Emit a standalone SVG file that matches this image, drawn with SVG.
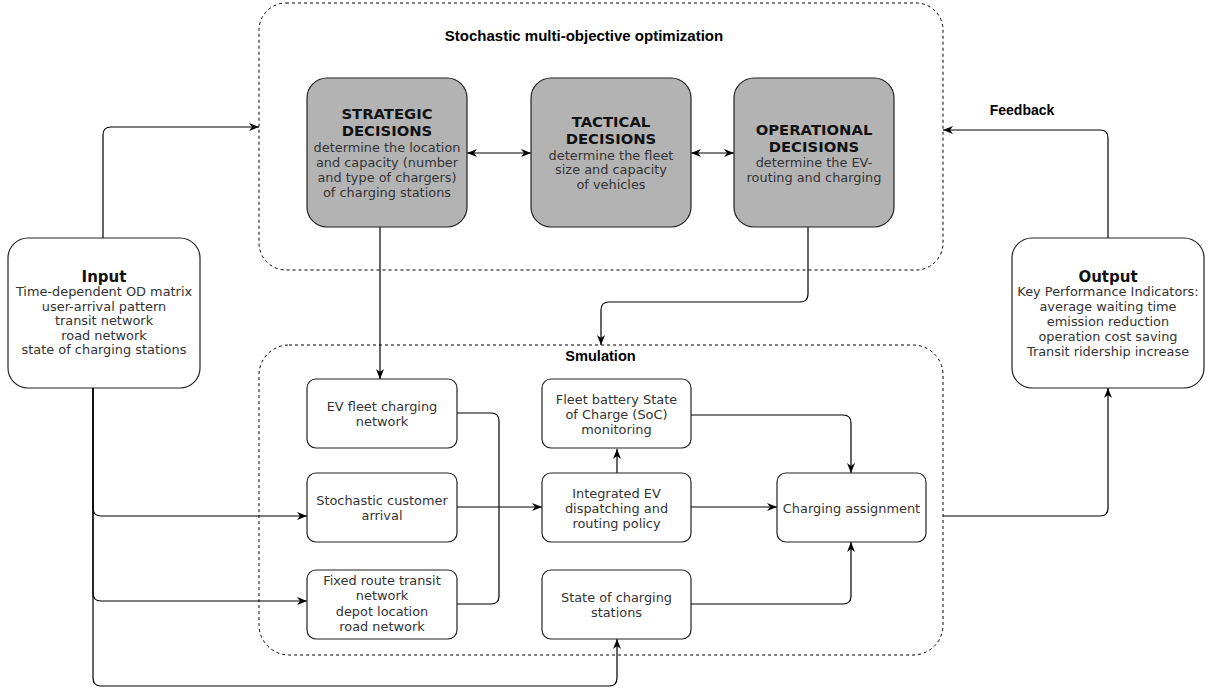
<svg xmlns="http://www.w3.org/2000/svg" width="1211" height="690" viewBox="0 0 1211 690">
<defs>
<marker id="arr" viewBox="0 0 10 8" markerWidth="10" markerHeight="8" refX="10" refY="4" orient="auto-start-reverse" markerUnits="userSpaceOnUse">
<path d="M0,0 L10,4 L0,8 L3,4 Z" fill="#000"/>
</marker>
</defs>
<style>
.container{fill:none;stroke:#000;stroke-width:1;stroke-dasharray:3 3}
.dec{fill:#b3b3b3;stroke:#222;stroke-width:1.2}
.box{fill:#fff;stroke:#222;stroke-width:1.2}
.edge{fill:none;stroke:#000;stroke-width:1.2}
.arrow{marker-end:url(#arr)}
.both{marker-start:url(#arr);marker-end:url(#arr)}
.ctitle{font-family:"Liberation Sans",Arial,sans-serif;font-weight:bold;font-size:14px;fill:#000;text-anchor:middle}
.dtitle{font-family:"DejaVu Sans",Verdana,sans-serif;font-weight:bold;font-size:14.8px;fill:#111;text-anchor:middle}
.iotitle{font-family:"DejaVu Sans",Verdana,sans-serif;font-weight:bold;font-size:15px;fill:#111;text-anchor:middle}
.body{font-family:"DejaVu Sans",Verdana,sans-serif;font-size:12.9px;fill:#333;text-anchor:middle}
.dbody{font-family:"DejaVu Sans",Verdana,sans-serif;font-size:12.9px;fill:#333;text-anchor:middle}
</style>
<rect width="1211" height="690" fill="#fff"/>

<g id="optimization">
<rect class="container" x="259" y="3" width="684" height="267" rx="27" ry="27"/>
<text class="ctitle" x="584" y="41" style="font-size:15px">Stochastic multi-objective optimization</text>
</g>
<g id="simulation">
<rect class="container" x="259" y="345" width="684" height="310" rx="30" ry="30"/>
<text class="ctitle" x="600.5" y="361" style="font-size:14.6px">Smulation</text>
</g>

<g id="connectors">
<path class="edge arrow" d="M103,238 V135 Q103,127 111,127 H259"/>
<path class="edge arrow" d="M93,388 V508 Q93,516 101,516 H307"/>
<path class="edge arrow" d="M93,388 V593 Q93,601 101,601 H307"/>
<path class="edge arrow" d="M93,388 V678 Q93,686 101,686 H609 Q617,686 617,678 V639"/>
<path class="edge arrow" d="M380,227 V379"/>
<path class="edge arrow" d="M808,227 V294 Q808,302 800,302 H609 Q601,302 601,310 V345"/>
<path class="edge both" d="M467,153 H531"/>
<path class="edge both" d="M691,153 H734"/>
<path class="edge" d="M457,413 H491 Q499,413 499,421 V596 Q499,604 491,604 H457"/>
<path class="edge arrow" d="M457,507 H542"/>
<path class="edge arrow" d="M617,473 V449"/>
<path class="edge arrow" d="M691,415 H843 Q851,415 851,423 V473"/>
<path class="edge arrow" d="M691,507 H777"/>
<path class="edge arrow" d="M691,604 H843 Q851,604 851,596 V542"/>
<path class="edge arrow" d="M943,516 H1100 Q1108,516 1108,508 V388"/>
<path class="edge arrow" d="M1108,238 V138 Q1108,130 1100,130 H943"/>
<text class="ctitle" x="1022" y="115">Feedback</text>
</g>

<g id="strategic">
<rect class="dec" x="307" y="78" width="160" height="149" rx="20" ry="20"/>
<text class="dtitle" x="387" y="119">STRATEGIC</text>
<text class="dtitle" x="387" y="136">DECISIONS</text>
<text class="dbody" x="387" y="152">determine the location</text>
<text class="dbody" x="387" y="167">and capacity (number</text>
<text class="dbody" x="387" y="181.5">and type of chargers)</text>
<text class="dbody" x="387" y="196.5">of charging stations</text>
</g>
<g id="tactical">
<rect class="dec" x="531" y="78" width="160" height="149" rx="20" ry="20"/>
<text class="dtitle" x="611" y="127">TACTICAL</text>
<text class="dtitle" x="611" y="144">DECISIONS</text>
<text class="dbody" x="611" y="159.5">determine the fleet</text>
<text class="dbody" x="611" y="174">size and capacity</text>
<text class="dbody" x="611" y="189">of vehicles</text>
</g>
<g id="operational">
<rect class="dec" x="734" y="78" width="160" height="149" rx="20" ry="20"/>
<text class="dtitle" x="814" y="135">OPERATIONAL</text>
<text class="dtitle" x="814" y="152">DECISIONS</text>
<text class="dbody" x="814" y="167">determine the EV-</text>
<text class="dbody" x="814" y="182">routing and charging</text>
</g>

<g id="input">
<rect class="box" x="8" y="238" width="192" height="150" rx="20" ry="20"/>
<text class="iotitle" x="104" y="282">Input</text>
<text class="body" x="104" y="296">Time-dependent OD matrix</text>
<text class="body" x="104" y="310.6">user-arrival pattern</text>
<text class="body" x="104" y="325.2">transit network</text>
<text class="body" x="104" y="339.8">road network</text>
<text class="body" x="104" y="354.4">state of charging stations</text>
</g>
<g id="output">
<rect class="box" x="1012" y="238" width="192" height="150" rx="20" ry="20"/>
<text class="iotitle" x="1108" y="282">Output</text>
<text class="body" x="1108" y="296">Key Performance Indicators:</text>
<text class="body" x="1108" y="311">average waiting time</text>
<text class="body" x="1108" y="326">emission reduction</text>
<text class="body" x="1108" y="341">operation cost saving</text>
<text class="body" x="1108" y="356">Transit ridership increase</text>
</g>

<g id="ev-fleet">
<rect class="box" x="307" y="379" width="150" height="69" rx="9" ry="9"/>
<text class="body" x="382" y="410.5">EV fleet charging</text>
<text class="body" x="382" y="425.5">network</text>
</g>
<g id="stochastic-arrival">
<rect class="box" x="307" y="473" width="150" height="69" rx="9" ry="9"/>
<text class="body" x="382" y="504.5">Stochastic customer</text>
<text class="body" x="382" y="519.5">arrival</text>
</g>
<g id="fixed-route">
<rect class="box" x="307" y="570" width="150" height="69" rx="9" ry="9"/>
<text class="body" x="382" y="585">Fixed route transit</text>
<text class="body" x="382" y="600.3">network</text>
<text class="body" x="382" y="615.6">depot location</text>
<text class="body" x="382" y="631">road network</text>
</g>
<g id="soc-monitoring">
<rect class="box" x="542" y="379" width="149" height="69" rx="9" ry="9"/>
<text class="body" x="616.5" y="403.5">Fleet battery State</text>
<text class="body" x="616.5" y="418.8">of Charge (SoC)</text>
<text class="body" x="616.5" y="434">monitoring</text>
</g>
<g id="dispatching">
<rect class="box" x="542" y="473" width="149" height="69" rx="9" ry="9"/>
<text class="body" x="616.5" y="498">Integrated EV</text>
<text class="body" x="616.5" y="513">dispatching and</text>
<text class="body" x="616.5" y="528">routing policy</text>
</g>
<g id="charging-stations">
<rect class="box" x="542" y="570" width="149" height="69" rx="9" ry="9"/>
<text class="body" x="616.5" y="601.5">State of charging</text>
<text class="body" x="616.5" y="616.5">stations</text>
</g>
<g id="charging-assignment">
<rect class="box" x="777" y="473" width="149" height="69" rx="9" ry="9"/>
<text class="body" x="851.5" y="512.5">Charging assignment</text>
</g>
</svg>
